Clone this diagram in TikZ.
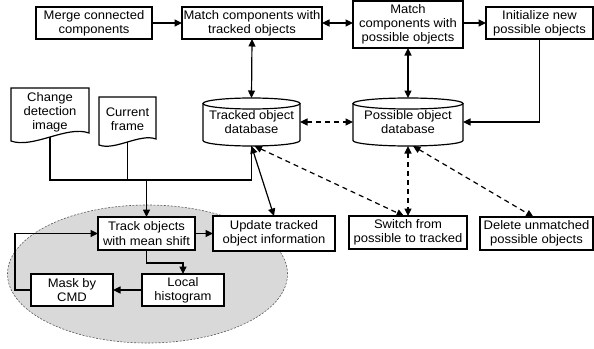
\documentclass[tikz,border=0pt]{standalone}
\usepackage{fontspec}
\setmainfont[FakeStretch=1.05]{Liberation Sans}
\usetikzlibrary{arrows.meta}

\definecolor{mttext}{RGB}{0,0,0}
\definecolor{mtline}{RGB}{0,0,0}
\definecolor{mtshade}{RGB}{217,217,217}
\definecolor{mtrim}{RGB}{90,90,90}

\begin{document}
\begin{tikzpicture}[
  x=1pt,
  y=-1pt,
  >={Triangle[length=7.5pt,width=7pt]},
  every node/.style={inner sep=0pt, outer sep=0pt},
  mtLabel/.style={font=\fontsize{12.4}{14.2}\selectfont, text=mttext, align=center},
  mtBox/.style={mtLabel, draw=mtline, fill=white, line width=1.2pt, minimum height=32pt},
  mtEdge/.style={draw=mtline, line width=1.2pt},
  mtMain/.style={mtEdge, ->},
  mtBoth/.style={mtEdge, <->},
  mtDash/.style={mtEdge, <->, dash pattern=on 5pt off 4pt},
  mtZone/.style={draw=mtrim, fill=mtshade, line width=0.6pt, dash pattern=on 2pt off 1.5pt}
]

  \path[use as bounding box] (0,0) rectangle (594,348);

  % shaded mean shift loop
  \draw[mtZone] (147.5,274) ellipse [x radius=140pt, y radius=69pt];

  \node[mtBox, minimum width=116pt] (merge) at (94,23) {Merge connected\\components};
  \node[mtBox, minimum width=140pt] (matchTr) at (252,23) {Match components with\\tracked objects};
  \node[mtBox, minimum width=110pt, minimum height=47pt] (matchPo) at (408,24.5) {Match\\components with\\possible objects};
  \node[mtBox, minimum width=107pt] (initNew) at (539.5,23) {Initialize new\\possible objects};

  \node[mtLabel, minimum width=97pt, minimum height=48pt] (trackDb) at (251.5,122) {Tracked object\\database};
  \node[mtLabel, minimum width=110pt, minimum height=48pt] (possDb) at (408,122) {Possible object\\database};

  \node[mtLabel, minimum width=78pt, minimum height=49pt] (changeDoc) at (50,112.5) {Change\\detection\\image};
  \node[mtLabel, minimum width=57pt, minimum height=45pt] (frameDoc) at (127.5,119.5) {Current\\frame};

  \node[mtBox, minimum width=97pt, minimum height=33pt] (trackMs) at (146.5,233.5) {Track objects\\with mean shift};
  \node[mtBox, minimum width=122pt, minimum height=35pt] (update) at (274,233.5) {Update tracked\\object information};
  \node[mtBox, minimum width=82pt] (localHist) at (183,290) {Local\\histogram};
  \node[mtBox, minimum width=82pt] (mask) at (72,290) {Mask by\\CMD};
  \node[mtBox, minimum width=118pt, minimum height=33pt] (switchPt) at (408,232.5) {Switch from\\possible to tracked};
  \node[mtBox, minimum width=113pt, minimum height=33pt] (deleteUn) at (536.5,233.5) {Delete unmatched\\possible objects};

  % database outlines
  \draw[mtEdge] ([yshift=-5.5pt]trackDb.north west) -- ([yshift=5.5pt]trackDb.south west)
    arc[start angle=180, end angle=360, x radius=48.5pt, y radius=5.5pt] -- ([yshift=-5.5pt]trackDb.north east);
  \draw[mtEdge] ([yshift=-5.5pt]trackDb.north) ellipse [x radius=48.5pt, y radius=5.5pt];
  \draw[mtEdge] ([yshift=-5.5pt]possDb.north west) -- ([yshift=5.5pt]possDb.south west)
    arc[start angle=180, end angle=360, x radius=55pt, y radius=5.5pt] -- ([yshift=-5.5pt]possDb.north east);
  \draw[mtEdge] ([yshift=-5.5pt]possDb.north) ellipse [x radius=55pt, y radius=5.5pt];

  % document outlines
  \draw[mtEdge] (changeDoc.north west) -- (changeDoc.north east) -- ([yshift=4pt]changeDoc.south east)
    .. controls +(-22pt,8pt) and +(22pt,-8pt) .. ([yshift=-4pt]changeDoc.south west) -- cycle;
  \draw[mtEdge] (frameDoc.north west) -- (frameDoc.north east) -- ([yshift=3pt]frameDoc.south east)
    .. controls +(-16pt,6pt) and +(16pt,-6pt) .. ([yshift=-3pt]frameDoc.south west) -- cycle;

  % inputs
  \coordinate (feed) at (251.5,180);
  \draw[mtEdge] (changeDoc.south) |- (feed) -- (trackDb.south);
  \draw[mtEdge] (frameDoc.south) -- (frameDoc.south |- feed);
  \draw[mtMain] (trackMs.north |- feed) -- (trackMs.north);

  % matching
  \draw[mtMain] (merge) -- (matchTr);
  \draw[mtBoth] (matchTr.east) -- (matchTr.east -| matchPo.west);
  \draw[mtMain] (matchPo.east |- initNew.west) -- (initNew.west);
  \draw[mtBoth] (matchTr.south) -- (trackDb.north);
  \draw[mtBoth] (matchPo.south) -- (possDb.north);
  \draw[mtMain] (initNew.south) |- (possDb.east);
  \draw[mtDash] (trackDb.east) -- (possDb.west);

  % updates
  \draw[mtBoth] (trackDb.south) -- (update.north);
  \draw[mtDash] ([xshift=3pt]trackDb.south) -- ([xshift=-4pt]switchPt.north);
  \draw[mtDash] (possDb.south) -- (switchPt.north);
  \draw[mtDash] ([xshift=5pt]possDb.south) -- ([xshift=-3pt]deleteUn.north);

  % mean shift loop
  \draw[mtMain] (trackMs) -- (update);
  \draw[mtMain] (trackMs.south) -- ++(0,13) -| (localHist.north);
  \draw[mtMain] (localHist) -- (mask);
  \draw[mtMain] (mask.west) -- ++(-16,0) |- (trackMs.west);

\end{tikzpicture}
\end{document}
